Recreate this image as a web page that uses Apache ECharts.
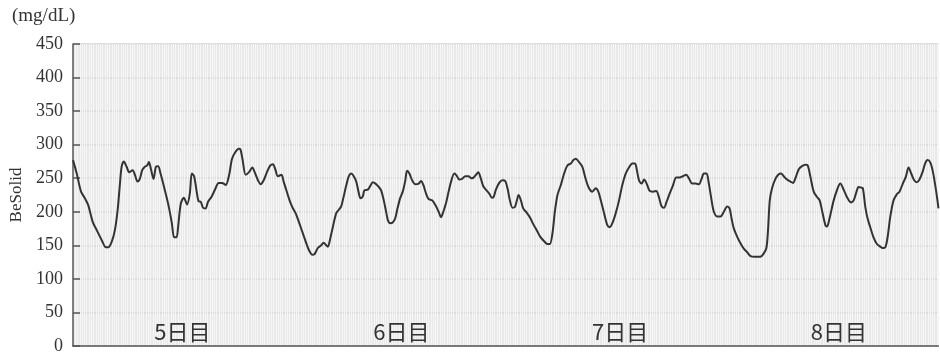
<!DOCTYPE html>
<html>
<head>
<meta charset="utf-8">
<script src="https://cdn.jsdelivr.net/npm/echarts@6/dist/echarts.min.js"></script>
<style>html,body{margin:0;padding:0;background:#fff}#c{width:940px;height:355px}</style>
</head>
<body>
<div id="c"></div>
<script>
// hours since start of day 5
const hours = [0,0.41,0.88,1.31,1.67,2.16,2.59,3.14,3.61,3.86,4.24,4.60,4.89,5.15,5.33,5.58,5.88,6.16,6.54,6.79,7.08,7.33,7.59,7.88,8.13,8.32,8.54,8.83,9.09,9.34,9.60,9.89,10.26,10.54,10.84,11.09,11.35,11.53,11.82,12.15,12.51,12.81,13.03,13.28,13.54,13.76,14.01,14.26,14.53,14.81,15.18,15.54,15.98,16.34,16.75,17.11,17.44,17.81,18.17,18.36,18.58,18.94,19.30,19.67,19.92,20.28,20.58,20.91,21.27,21.64,21.93,22.19,22.47,22.85,23.10,23.40,23.75,24.05,24.41,24.77,25.15,25.51,25.87,26.24,26.49,26.85,27.22,27.48,27.77,27.95,28.21,28.49,28.87,29.15,29.41,29.67,29.96,30.25,30.51,30.79,31.06,31.31,31.53,31.78,31.96,32.33,32.62,32.87,33.17,33.53,33.79,34.08,34.34,34.52,34.78,35.06,35.33,35.55,35.87,36.16,36.42,36.64,36.89,37.19,37.55,37.91,38.17,38.42,38.72,39.00,39.38,39.74,40.10,40.36,40.61,40.91,41.19,41.46,41.82,42.07,42.36,42.66,43.02,43.38,43.65,43.93,44.19,44.44,44.74,44.99,45.35,45.65,45.94,46.12,46.38,46.74,47.10,47.40,47.65,47.91,48.20,48.46,48.68,48.86,49.12,49.37,49.73,50.10,50.46,50.87,51.23,51.67,52.03,52.29,52.58,52.84,53.13,53.50,53.86,54.22,54.59,54.88,55.14,55.50,55.86,56.16,56.52,56.95,57.33,57.61,57.88,58.24,58.60,58.86,59.15,59.52,59.88,60.24,60.61,60.97,61.33,61.63,61.81,62.07,62.36,62.62,62.91,63.24,63.60,63.96,64.25,64.55,64.81,65.10,65.43,65.79,66.15,66.52,66.89,67.25,67.54,67.90,68.28,68.64,68.93,69.18,69.48,69.73,70.03,70.28,70.64,71.01,71.37,71.74,72.00,72.22,72.47,72.83,73.20,73.56,73.92,74.30,74.77,75.39,75.75,76.04,76.22,76.41,76.66,77.03,77.39,77.65,77.94,78.30,78.68,78.96,79.22,79.58,79.95,80.32,80.57,80.87,81.23,81.59,81.88,82.14,82.51,82.68,82.98,83.42,83.85,84.15,84.51,84.87,85.31,85.61,85.90,86.15,86.45,86.62,86.89,87.14,87.43,87.79,88.16,88.53,88.78,89.08,89.33,89.62,89.98,90.34,90.64,91.00,91.33,91.63,91.92,92.25,92.54,92.83,93.16,93.45,93.71,94.00,94.28,94.55,94.80,94.91];
const glucose = [277,257,230,220,210,185,173,158,147,147,155,173,202,242,267,275,267,259,262,255,245,249,262,267,269,274,264,249,267,268,257,242,222,205,183,162,162,178,212,221,211,227,257,253,232,216,215,206,205,215,222,232,243,243,240,254,279,289,294,293,279,255,259,266,259,247,241,247,259,269,271,263,253,255,245,232,217,207,198,185,170,156,143,136,137,146,150,154,150,148,160,177,198,203,208,222,239,253,257,253,245,230,220,223,232,233,239,244,242,237,232,217,200,188,183,184,190,203,220,230,245,261,257,247,241,242,246,240,227,219,217,210,200,192,200,213,230,245,257,254,248,249,253,253,250,251,255,259,249,238,232,227,221,222,233,243,247,246,235,217,206,207,217,225,217,205,199,192,182,172,163,156,152,152,168,200,225,240,257,269,272,277,279,274,267,252,237,230,235,230,217,198,180,177,183,198,217,240,257,266,272,272,264,247,242,248,242,231,230,231,222,208,206,215,227,239,251,251,253,255,250,242,242,241,249,257,257,242,217,200,193,193,200,208,205,190,175,163,153,145,140,134,133,133,138,146,173,217,235,249,256,257,253,248,245,243,250,263,268,270,269,252,230,222,217,202,180,178,191,217,235,242,233,222,214,217,229,237,236,235,207,190,177,162,152,148,146,147,162,192,217,226,230,242,252,266,257,247,244,248,259,272,277,274,261,240,217,205];
const dayLabels = ['5日目','6日目','7日目','8日目'];
const yTicks = [0,50,100,150,200,250,300,350,400,450];
const xMax = 94.9; // visible portion of the 4-day window

const chart = echarts.init(document.getElementById('c'), null, {renderer:'canvas'});
const serif = '"Liberation Serif","DejaVu Serif",serif';
chart.setOption({
  animation:false,
  backgroundColor:'#ffffff',
  grid:{left:73,right:0,top:44,bottom:9,show:true,backgroundColor:'#e9e9e9',borderWidth:0},
  graphic:[{type:'text',left:12,top:7,style:{text:'(mg/dL)',font:'19px '+serif,fill:'#333'}}],
  xAxis:{type:'value',min:0,max:xMax,interval:0.25,
    axisLine:{show:true,onZero:false,lineStyle:{color:'#555',width:1.5}},
    axisTick:{show:false},
    splitLine:{show:true,lineStyle:{color:'#f6f6f6',width:1}},
    axisLabel:{inside:true,margin:3,fontSize:22,color:'#333',fontFamily:'"Noto Sans CJK JP",sans-serif',
      showMinLabel:false,showMaxLabel:false,
      formatter:function(v){const r=v%24; if(Math.abs(r-12)<1e-6){return dayLabels[Math.floor(v/24)]||'';} return '';}}
  },
  yAxis:{type:'value',min:yTicks[0],max:yTicks[yTicks.length-1],interval:50,
    name:'BeSolid',nameLocation:'middle',nameGap:46,
    nameTextStyle:{fontFamily:serif,fontSize:17,color:'#333'},
    axisLine:{show:true,lineStyle:{color:'#555',width:1.5}},
    axisTick:{show:true,inside:true,length:7,lineStyle:{color:'#555',width:1.5}},
    axisLabel:{fontFamily:serif,fontSize:18,color:'#333',margin:10},
    splitLine:{show:true,lineStyle:{color:'#d6d6d6',width:1.5}}
  },
  series:[{type:'line',data:hours.map((h,i)=>[h,glucose[i]]),showSymbol:false,smooth:0.3,
    lineStyle:{color:'#333',width:2},clip:true}]
});
</script>
</body>
</html>
